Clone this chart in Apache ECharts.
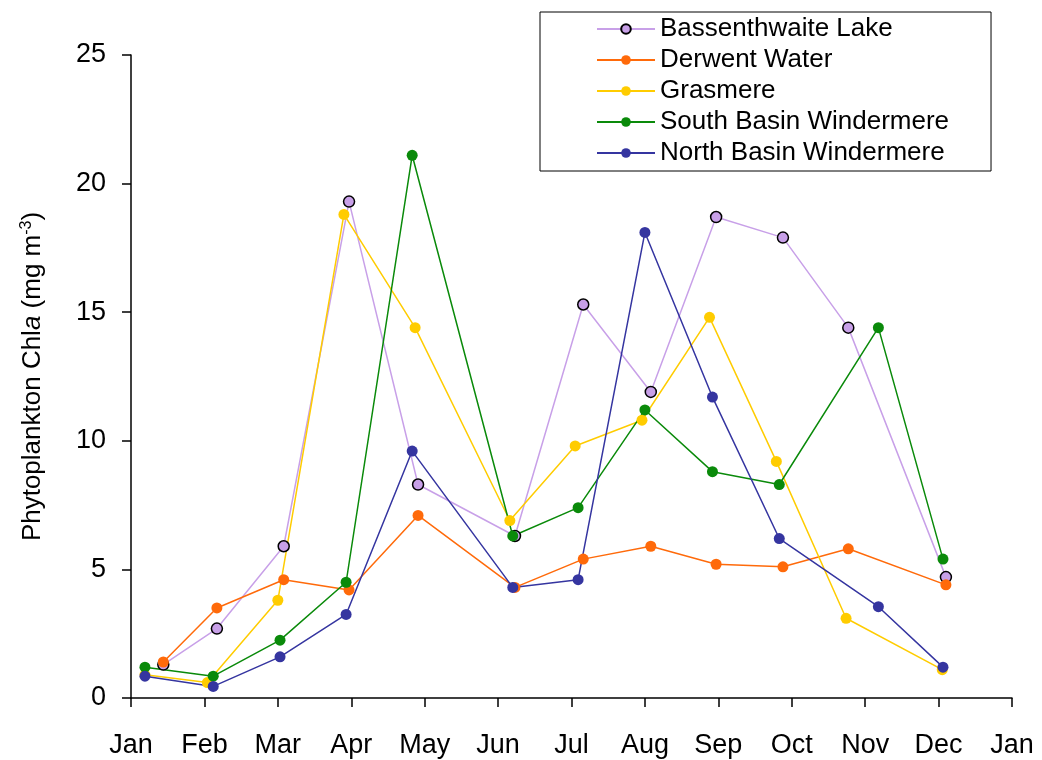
<!DOCTYPE html>
<html><head><meta charset="utf-8">
<script src="https://cdn.jsdelivr.net/npm/echarts@6/dist/echarts.min.js"></script>
<style>html,body{margin:0;background:#fff}#c{width:1042px;height:760px}</style>
</head><body><div id="c"></div>
<script>
const monthLabels = ['Jan','Feb','Mar','Apr','May','Jun','Jul','Aug','Sep','Oct','Nov','Dec','Jan'];
const bassX = [0.44,1.17,2.08,2.97,3.91,5.23,6.16,7.08,7.97,8.88,9.77,11.1];
const bassY = [1.3,2.7,5.9,19.3,8.3,6.3,15.3,11.9,18.7,17.9,14.4,4.7];
const derwX = [0.44,1.17,2.08,2.97,3.91,5.23,6.16,7.08,7.97,8.88,9.77,11.1];
const derwY = [1.4,3.5,4.6,4.2,7.1,4.3,5.4,5.9,5.2,5.1,5.8,4.4];
const grasX = [0.19,1.04,2.0,2.90,3.87,5.16,6.05,6.96,7.88,8.79,9.74,11.05];
const grasY = [0.9,0.6,3.8,18.8,14.4,6.9,9.8,10.8,14.8,9.2,3.1,1.1];
const southX = [0.19,1.12,2.03,2.93,3.83,5.2,6.09,7.0,7.92,8.83,10.18,11.06];
const southY = [1.2,0.85,2.25,4.5,21.1,6.3,7.4,11.2,8.8,8.3,14.4,5.4];
const northX = [0.19,1.12,2.03,2.93,3.83,5.2,6.09,7.0,7.92,8.83,10.18,11.06];
const northY = [0.85,0.45,1.6,3.25,9.6,4.3,4.6,18.1,11.7,6.2,3.55,1.2];
const zip=(a,b)=>a.map((v,i)=>[v,b[i]]);
const F='Liberation Sans, Arial, sans-serif';
function s(name,x,y,color,border){return {name,type:'line',data:zip(x,y),symbol:'circle',symbolSize:11,
 lineStyle:{color,width:1.5},itemStyle:{color,borderColor:border||color,borderWidth:border?1.5:0}};}
const chart=echarts.init(document.getElementById('c'));
chart.setOption({
 animation:false,
 grid:{left:131,right:30,top:55,bottom:62},
 legend:{orient:'vertical',left:540,top:12,itemGap:5,padding:[4,42,5,56],borderColor:'#000',borderWidth:1,
  itemWidth:58,itemHeight:12,textStyle:{fontFamily:F,fontSize:26,color:'#000'},
  data:['Bassenthwaite Lake','Derwent Water','Grasmere','South Basin Windermere','North Basin Windermere']},
 xAxis:{type:'value',min:0,max:12,interval:1,splitLine:{show:false},
  axisLine:{lineStyle:{color:'#000',width:1.5}},axisTick:{lineStyle:{color:'#000',width:1.5},length:9},
  axisLabel:{fontFamily:F,fontSize:27,color:'#000',margin:34,formatter:v=>monthLabels[v]}},
 yAxis:{type:'value',min:0,max:25,interval:5,splitLine:{show:false},
  axisLine:{show:true,lineStyle:{color:'#000',width:1.5}},axisTick:{show:true,lineStyle:{color:'#000',width:1.5},length:9},
  axisLabel:{fontFamily:F,fontSize:27,color:'#000',margin:25},
  name:'{a|Phytoplankton Chl}{i|a}{a| (mg m}{s|-3}{a|)}',nameLocation:'middle',nameGap:84,nameRotate:90,
  nameTextStyle:{rich:{a:{fontFamily:F,fontSize:26,color:'#000'},i:{fontFamily:F,fontSize:26,fontStyle:'italic',color:'#000'},
   s:{fontFamily:F,fontSize:16,color:'#000',verticalAlign:'top',padding:[0,0,12,0]}}}},
 series:[
  s('Bassenthwaite Lake',bassX,bassY,'#c8a0e8','#000'),
  s('Derwent Water',derwX,derwY,'#ff6a0a'),
  s('Grasmere',grasX,grasY,'#ffcc00'),
  s('South Basin Windermere',southX,southY,'#0a8a0a'),
  s('North Basin Windermere',northX,northY,'#3535a0')
 ]
});
</script></body></html>
